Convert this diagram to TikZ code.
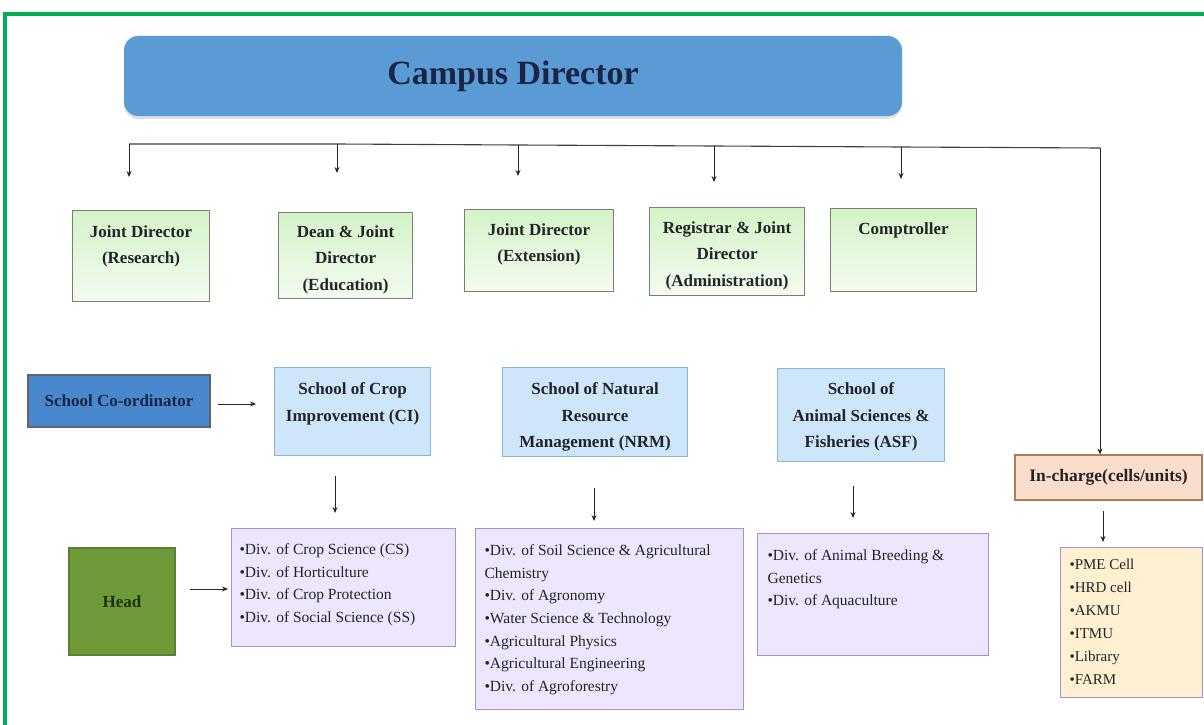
\documentclass[tikz,border=0pt]{standalone}
\usepackage{fontspec}
\setmainfont{Liberation Serif}
\usetikzlibrary{arrows.meta,shadows}
\definecolor{frameg}{RGB}{0,176,80}
\definecolor{cdfill}{RGB}{91,155,213}
\definecolor{cdtext}{RGB}{27,38,68}
\definecolor{gborder}{RGB}{120,128,112}
\definecolor{ggtop}{RGB}{212,243,200}
\definecolor{ggbot}{RGB}{244,251,240}
\definecolor{sfill}{RGB}{205,230,250}
\definecolor{sborder}{RGB}{140,180,215}
\definecolor{dfill}{RGB}{238,230,252}
\definecolor{dborder}{RGB}{160,146,215}
\definecolor{cfill}{RGB}{254,240,208}
\definecolor{ifill}{RGB}{251,221,204}
\definecolor{iborder}{RGB}{170,125,95}
\definecolor{scfill}{RGB}{74,136,205}
\definecolor{scborder}{RGB}{95,100,110}
\definecolor{hfill}{RGB}{110,154,58}
\definecolor{hborder}{RGB}{92,128,48}
\definecolor{htext}{RGB}{30,50,15}
\definecolor{txt}{RGB}{35,35,40}
\newcommand\cbx[4]{\parbox[c][#2pt][t]{#1pt}{\centering\vspace*{#3pt}#4\par}}
\newcommand\lbx[5]{\parbox[c][#2pt][t]{#1pt}{\raggedright\leftskip=#5pt\vspace*{#3pt}#4\par}}
\begin{document}
\begin{tikzpicture}[x=1pt,y=-1pt,
  gbox/.style={draw=gborder, line width=1.1pt, top color=ggtop, bottom color=ggbot, anchor=north west, inner sep=0pt, text=txt, font=\fontsize{17}{26.5}\selectfont\bfseries},
  sbox/.style={draw=sborder, line width=1.1pt, fill=sfill, anchor=north west, inner sep=0pt, text=txt, font=\fontsize{17}{26.5}\selectfont\bfseries},
  dbox/.style={draw=dborder, line width=1.1pt, fill=dfill, anchor=north west, inner sep=0pt, text=txt, font=\fontsize{15.5}{22.7}\selectfont},
  arr/.style={-{Stealth[length=6pt,width=5pt]}, line width=0.9pt, draw=black!85},
  ln/.style={line width=1.1pt, draw=black!75}]
\useasboundingbox (0,0) rectangle (1204,725);
\fill[white] (0,0) rectangle (1204,725);
\draw[frameg, line width=4.5pt] (5,14) rectangle (1230,760);

% Campus Director
\node[fill=cdfill, rounded corners=14pt, minimum width=778pt, minimum height=80pt, inner sep=0pt,
  drop shadow={opacity=0.25, shadow xshift=0pt, shadow yshift=-3pt},
  text=cdtext, font=\fontsize{34}{36}\selectfont\bfseries] (cd) at (513,76) {\raisebox{-5pt}{Campus Director}};

% bus
\coordinate (b1) at (129,144);
\coordinate (b2) at (337,144);
\coordinate (b3) at (518,145);
\coordinate (b4) at (714,146);
\coordinate (b5) at (901,147);
\coordinate (b6) at (1100,148);
\coordinate (e1) at (129,177);
\coordinate (e2) at (337,173);
\coordinate (e3) at (518,176);
\coordinate (e4) at (714,182);
\coordinate (e5) at (901,179);
\draw[ln] (b1) -- (b2) -- (b3) -- (b4) -- (b5) -- (b6);
\draw[arr] (b1) -- (e1);
\draw[arr] (b2) -- (e2);
\draw[arr] (b3) -- (e3);
\draw[arr] (b4) -- (e4);
\draw[arr] (b5) -- (e5);

% row 1
\node[gbox] (jdr) at (72,210) {\cbx{137}{91}{15}{Joint Director\\(Research)}};
\node[gbox] (dean) at (278,212) {\cbx{134}{86}{13}{Dean \& Joint\\Director\\(Education)}};
\node[gbox] (jde) at (464,209) {\cbx{149}{82}{14}{Joint Director\\(Extension)}};
\node[gbox] (reg) at (649,207) {\cbx{155}{88}{14}{Registrar \& Joint\\Director\\(Administration)}};
\node[gbox] (comp) at (830,208) {\cbx{146}{83}{14}{Comptroller}};

% row 2
\node[draw=scborder, line width=1.3pt, fill=scfill, minimum width=182pt, minimum height=52pt, inner sep=0pt,
  text=cdtext, font=\fontsize{17}{19}\selectfont\bfseries] (sc) at (119,401) {School Co-ordinator};
\node[sbox] (ci) at (274,367) {\cbx{156}{88}{15}{School of Crop\\Improvement (CI)}};
\node[sbox] (nrm) at (502,367) {\cbx{185}{89}{15}{School of Natural\\Resource\\Management (NRM)}};
\node[sbox] (asf) at (777,368) {\cbx{167}{93}{14}{School of\\Animal Sciences \&\\Fisheries (ASF)}};
\node[draw=iborder, line width=1.1pt, fill=ifill, minimum width=187pt, minimum height=45pt, inner sep=0pt,
  text=txt, font=\fontsize{17.5}{19}\selectfont\bfseries] (inc) at (1108.5,477.5) {In-charge(cells/units)};

\draw[arr] (b6) -- (b6 |- inc.north);
\coordinate (s1) at (218,404);
\coordinate (s2) at (256,404);
\draw[arr] (s1) -- (s2);

% arrows to divisions
\coordinate (a1) at (335,476);
\coordinate (a2) at (335,513);
\coordinate (a3) at (594,488);
\coordinate (a4) at (594,521);
\coordinate (a5) at (853,486);
\coordinate (a6) at (853,518);
\coordinate (a7) at (1103,511);
\coordinate (a8) at (1103,542);
\draw[arr] (a1) -- (a2);
\draw[arr] (a3) -- (a4);
\draw[arr] (a5) -- (a6);
\draw[arr] (a7) -- (a8);

% row 3
\node[draw=hborder, line width=1.2pt, fill=hfill, minimum width=106pt, minimum height=107pt, inner sep=0pt,
  text=htext, font=\fontsize{17}{19}\selectfont\bfseries] (head) at (122,601.5) {Head};
\coordinate (h1) at (190,589);
\coordinate (h2) at (228,589);
\draw[arr] (h1) -- (h2);

\node[dbox] (cidiv) at (231,528) {\lbx{224}{118}{15}{•Div. of Crop Science (CS)\\•Div. of Horticulture\\•Div. of Crop Protection\\•Div. of Social Science (SS)}{8}};
\node[dbox] (nrmdiv) at (475,528) {\lbx{268}{181}{16}{•Div. of Soil Science \& Agricultural\\Chemistry\\•Div. of Agronomy\\•Water Science \& Technology\\•Agricultural Physics\\•Agricultural Engineering\\•Div. of Agroforestry}{9}};
\node[dbox] (asfdiv) at (757,533) {\lbx{231}{122}{16}{•Div. of Animal Breeding \&\\Genetics\\•Div. of Aquaculture}{10}};
\node[dbox, fill=cfill, font=\fontsize{15}{23}\selectfont] (cells) at (1060,547) {\lbx{142}{150}{12}{•PME Cell\\•HRD cell\\•AKMU\\•ITMU\\•Library\\•FARM}{9}};
\end{tikzpicture}
\end{document}
